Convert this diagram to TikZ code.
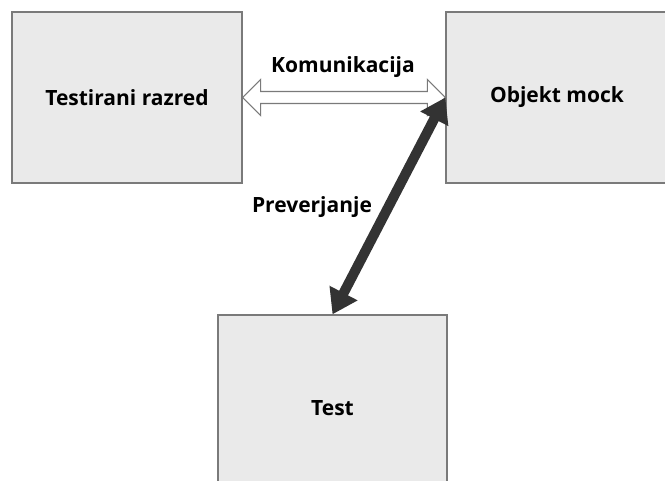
\documentclass[tikz,border=0pt]{standalone}
\usepackage{fontspec}
\setmainfont{Open Sans}
\usetikzlibrary{arrows.meta}
\usetikzlibrary{calc}
\definecolor{boxgray}{HTML}{EAEAEA}
\definecolor{linegray}{HTML}{7A7A7A}
\definecolor{darkarrow}{HTML}{333333}

\begin{document}
\begin{tikzpicture}[x=1pt, y=-1pt, font=\fontsize{21}{25}\selectfont\bfseries,
		main/.style = {draw=linegray, line width=1.3pt, fill=boxgray, rectangle, inner sep=0pt},
		hollow/.style = {draw=linegray, line width=1.1pt, fill=white, line join=miter},
		check/.style = {draw=darkarrow, line width=10pt, {Triangle[width=30pt,length=24pt]}-{Triangle[width=30pt,length=24pt]}}]
		\clip (0,0) rectangle (665,481);
		\node[main, minimum width=230pt, minimum height=171pt] (lt) at (127, 97.5) {Testirani razred};
		\node[main, minimum width=222pt, minimum height=171pt] (ob) at (557, 97.5) {Objekt mock};
		\node[main, minimum width=229pt, minimum height=186pt] (ts) at (332.5, 408) {Test};
		\node (kom) at (343, 67) {Komunikacija};
		\node (prev) at (312, 207) {Preverjanje};
		\draw[hollow] (lt.east) -- ++(18,-18) -- ++(0,12) -- ($(ob.west)+(-18,-6)$) -- ++(0,-12)
			-- (ob.west) -- ++(-18,18) -- ++(0,-12) -- ($(lt.east)+(18,6)$) -- ++(0,12) -- cycle;
		\draw[check] (ob.west) -- (ts.north);
	\end{tikzpicture}
\end{document}
